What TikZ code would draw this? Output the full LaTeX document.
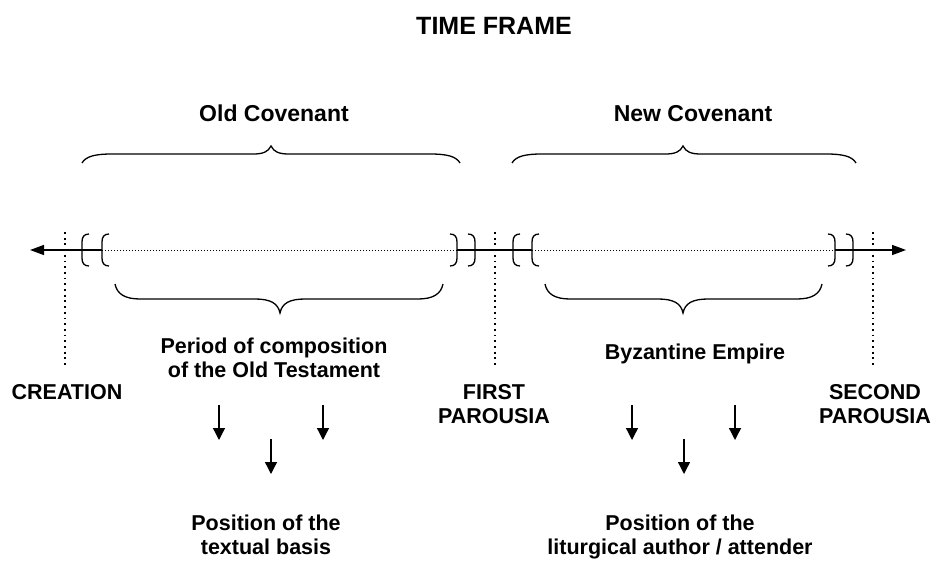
\documentclass[tikz,border=0pt]{standalone}
\usepackage{fontspec}
\setmainfont{Liberation Sans}
\usetikzlibrary{arrows.meta}
\begin{document}
\begin{tikzpicture}[x=1pt,y=-1pt,
  ttl/.style={font=\bfseries\fontsize{25}{28}\selectfont, anchor=base, inner sep=0pt},
  cov/.style={font=\bfseries\fontsize{23}{26}\selectfont, anchor=base, inner sep=0pt},
  lbl/.style={font=\bfseries\fontsize{21.5}{24}\selectfont, align=center, anchor=base, inner sep=0pt},
  mainline/.style={line width=1.5pt},
  finedots/.style={line width=1pt, dash pattern=on 1pt off 2pt},
  vdots/.style={line width=1.8pt, dash pattern=on 1.8pt off 3.9pt},
  bracket/.style={line width=1.3pt},
  brace/.style={line width=1.3pt},
  downarrow/.style={line width=1.3pt, -{Triangle[length=12pt,width=12pt]}},
  axisarrow/.style={line width=1.5pt, -{Triangle[length=14pt,width=10pt]}}
]
\useasboundingbox (0,0) rectangle (933,561);

% texts (multi-line nodes: base anchor is on the last line)
\node[ttl] (title) at (494,35) {TIME FRAME};
\node[cov] (oldcov) at (274,122) {Old Covenant};
\node[cov] (newcov) at (693,122) {New Covenant};
\node[lbl] (period) at (274,377) {Period of composition\\of the Old Testament};
\node[lbl] (byz) at (695,359) {Byzantine Empire};
\node[lbl] (creation) at (67,399) {CREATION};
\node[lbl] (first) at (494,423) {FIRST\\PAROUSIA};
\node[lbl] (second) at (875,423) {SECOND\\PAROUSIA};
\node[lbl] (textual) at (266,554) {Position of the\\textual basis};
\node[lbl] (liturg) at (680,554) {Position of the\\liturgical author / attender};

% axis coordinates
\coordinate (Ltip) at (30,250);
\coordinate (Rtip) at (906,250);
\coordinate (b1) at (82,250);
\coordinate (b2) at (102,250);
\coordinate (b3) at (457,250);
\coordinate (b4) at (475,250);
\coordinate (b5) at (513,250);
\coordinate (b6) at (532,250);
\coordinate (b7) at (835,250);
\coordinate (b8) at (853,250);

% axis
\draw[axisarrow] (b2) -- (Ltip);
\draw[mainline] (b3) -- (b6);
\draw[axisarrow] (b7) -- (Rtip);
\draw[finedots] (b2) -- (b3);
\draw[finedots] (b6) -- (b7);

% vertical dotted markers
\coordinate (c1) at (65,232);  \coordinate (c2) at (65,366);
\coordinate (f1) at (495,232); \coordinate (f2) at (495,366);
\coordinate (s1) at (873,232); \coordinate (s2) at (873,366);
\draw[vdots] (c1) -- (c2);
\draw[vdots] (f1) -- (f2);
\draw[vdots] (s1) -- (s2);

% brackets opening to the right
\foreach \bx in {82,102,513,532}{
  \draw[bracket] (\bx+7,234) .. controls (\bx+2,234) and (\bx,237) .. (\bx,242)
     -- (\bx,258) .. controls (\bx,263) and (\bx+2,266) .. (\bx+7,266);
}
% brackets opening to the left
\foreach \bx in {457,475,835,853}{
  \draw[bracket] (\bx-7,234) .. controls (\bx-2,234) and (\bx,237) .. (\bx,242)
     -- (\bx,258) .. controls (\bx,263) and (\bx-2,266) .. (\bx-7,266);
}

% top braces (pointing up)
\draw[brace] (82,163) .. controls (86,156) and (96,154) .. (112,154)
  -- (253,154) .. controls (263,154) and (268,152) .. (271,146)
  .. controls (274,152) and (279,154) .. (289,154)
  -- (430,154) .. controls (446,154) and (456,156) .. (460,163);
\draw[brace] (512,163) .. controls (516,156) and (526,154) .. (542,154)
  -- (665,154) .. controls (675,154) and (680,152) .. (683,146)
  .. controls (686,152) and (691,154) .. (701,154)
  -- (826,154) .. controls (842,154) and (852,156) .. (856,163);

% bottom braces (pointing down)
\draw[brace] (115,284) .. controls (117,294) and (125,299) .. (140,299)
  -- (255,299) .. controls (270,299) and (278,303) .. (280,313)
  .. controls (282,303) and (290,299) .. (305,299)
  -- (418,299) .. controls (433,299) and (441,294) .. (443,284);
\draw[brace] (545,284) .. controls (547,294) and (555,299) .. (570,299)
  -- (658,299) .. controls (673,299) and (681,303) .. (683,313)
  .. controls (685,303) and (693,299) .. (708,299)
  -- (797,299) .. controls (812,299) and (820,294) .. (822,284);

% down arrows
\coordinate (a1s) at (219,405); \coordinate (a1e) at (219,440);
\coordinate (a2s) at (323,405); \coordinate (a2e) at (323,440);
\coordinate (a3s) at (271,439); \coordinate (a3e) at (271,474);
\coordinate (a4s) at (632,405); \coordinate (a4e) at (632,440);
\coordinate (a5s) at (735,405); \coordinate (a5e) at (735,440);
\coordinate (a6s) at (684,439); \coordinate (a6e) at (684,474);
\draw[downarrow] (a1s) -- (a1e);
\draw[downarrow] (a2s) -- (a2e);
\draw[downarrow] (a3s) -- (a3e);
\draw[downarrow] (a4s) -- (a4e);
\draw[downarrow] (a5s) -- (a5e);
\draw[downarrow] (a6s) -- (a6e);
\end{tikzpicture}
\end{document}
